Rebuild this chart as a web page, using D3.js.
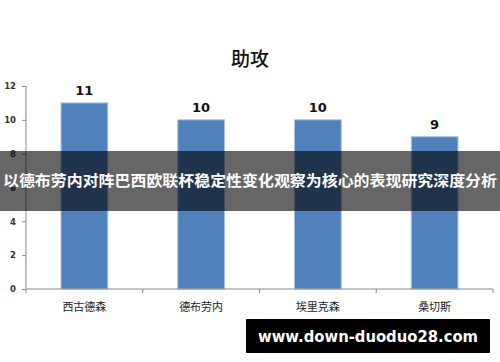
<!DOCTYPE html>
<html>
<head>
<meta charset="utf-8">
<script src="https://cdn.jsdelivr.net/npm/d3@7"></script>
<style>
  body { margin: 0; background: #fff; }
  svg { display: block; }
</style>
</head>
<body>
<script>
var width = 500,
    height = 362;

var players = ["西古德森", "德布劳内", "埃里克森", "桑切斯"];
var assists = [11, 10, 10, 9];
var yTicks = [0, 2, 4, 6, 8, 10, 12];
var chartTitle = "助攻";
var bannerText = "以德布劳内对阵巴西欧联杯稳定性变化观察为核心的表现研究深度分析";
var siteText = "www.down-duoduo28.com";

var cjk = "'Noto Sans CJK SC', 'Noto Sans', sans-serif";

var svg = d3.select("body").append("svg")
    .attr("width", width)
    .attr("height", height);

var x = d3.scaleBand()
    .domain(players)
    .range([26, 493])
    .paddingInner(0.6)
    .paddingOuter(0.3);

var y = d3.scaleLinear()
    .domain([0, 12])
    .range([289, 86]);

svg.append("text")
    .attr("x", 250)
    .attr("y", 66)
    .attr("text-anchor", "middle")
    .style("font-family", cjk)
    .style("font-size", "19px")
    .style("font-weight", "500")
    .attr("fill", "#111")
    .text(chartTitle);

// y axis
var yAxis = svg.append("g")
    .attr("transform", "translate(26,0)")
    .call(d3.axisLeft(y).tickValues(yTicks).tickSize(4).tickPadding(6));
yAxis.select(".domain").attr("stroke", "#8a8a8a").attr("d", "M0,86V289");
yAxis.selectAll(".tick line").attr("stroke", "#8a8a8a");
yAxis.selectAll(".tick text")
    .attr("fill", "#333")
    .style("font-family", "'DejaVu Sans', sans-serif")
    .style("font-size", "8.5px")
    .style("font-weight", "bold");

// bars
svg.selectAll("rect.bar")
    .data(players)
    .enter().append("rect")
    .attr("class", "bar")
    .attr("x", function(d) { return x(d); })
    .attr("y", function(d, i) { return y(assists[i]); })
    .attr("width", x.bandwidth())
    .attr("height", function(d, i) { return y(0) - y(assists[i]); })
    .attr("fill", "#4f81bd")
    .attr("stroke", "#a9c0de")
    .attr("stroke-width", 1);

// x axis
var xAxis = svg.append("g")
    .attr("transform", "translate(0,289)");
xAxis.append("line")
    .attr("x1", 26).attr("x2", 493)
    .attr("stroke", "#8a8a8a");
var step = x.step();
xAxis.selectAll("line.tk")
    .data(d3.range(players.length + 1))
    .enter().append("line")
    .attr("class", "tk")
    .attr("x1", function(i) { return 26 + i * step; })
    .attr("x2", function(i) { return 26 + i * step; })
    .attr("y1", 0).attr("y2", 4)
    .attr("stroke", "#8a8a8a");

svg.selectAll("text.cat")
    .data(players)
    .enter().append("text")
    .attr("class", "cat")
    .attr("x", function(d) { return x(d) + x.bandwidth() / 2; })
    .attr("y", 311)
    .attr("text-anchor", "middle")
    .style("font-family", cjk)
    .style("font-size", "11px")
    .attr("fill", "#222")
    .text(function(d) { return d; });

// value labels
svg.selectAll("text.val")
    .data(players)
    .enter().append("text")
    .attr("class", "val")
    .attr("x", function(d) { return x(d) + x.bandwidth() / 2; })
    .attr("y", function(d, i) { return y(assists[i]) - 8; })
    .attr("text-anchor", "middle")
    .style("font-family", "'DejaVu Sans', sans-serif")
    .style("font-size", "13px")
    .style("font-weight", "bold")
    .attr("fill", "#111")
    .text(function(d, i) { return assists[i]; });

// banner overlay
svg.append("rect")
    .attr("x", 0).attr("y", 151)
    .attr("width", width).attr("height", 60)
    .attr("fill", "rgba(0,0,0,0.6)");
svg.append("text")
    .attr("x", 250)
    .attr("y", 186)
    .attr("text-anchor", "middle")
    .attr("textLength", 494)
    .attr("lengthAdjust", "spacingAndGlyphs")
    .style("font-family", cjk)
    .style("font-size", "15px")
    .style("font-weight", "bold")
    .attr("fill", "#fff")
    .text(bannerText);

// watermark
svg.append("rect")
    .attr("x", 246).attr("y", 319)
    .attr("width", 244).attr("height", 34)
    .attr("fill", "#000");
svg.append("text")
    .attr("x", 368)
    .attr("y", 342)
    .attr("text-anchor", "middle")
    .attr("textLength", 220)
    .attr("lengthAdjust", "spacingAndGlyphs")
    .style("font-family", "'DejaVu Sans', sans-serif")
    .style("font-size", "16px")
    .style("font-weight", "bold")
    .attr("fill", "#fff")
    .text(siteText);
</script>
</body>
</html>
